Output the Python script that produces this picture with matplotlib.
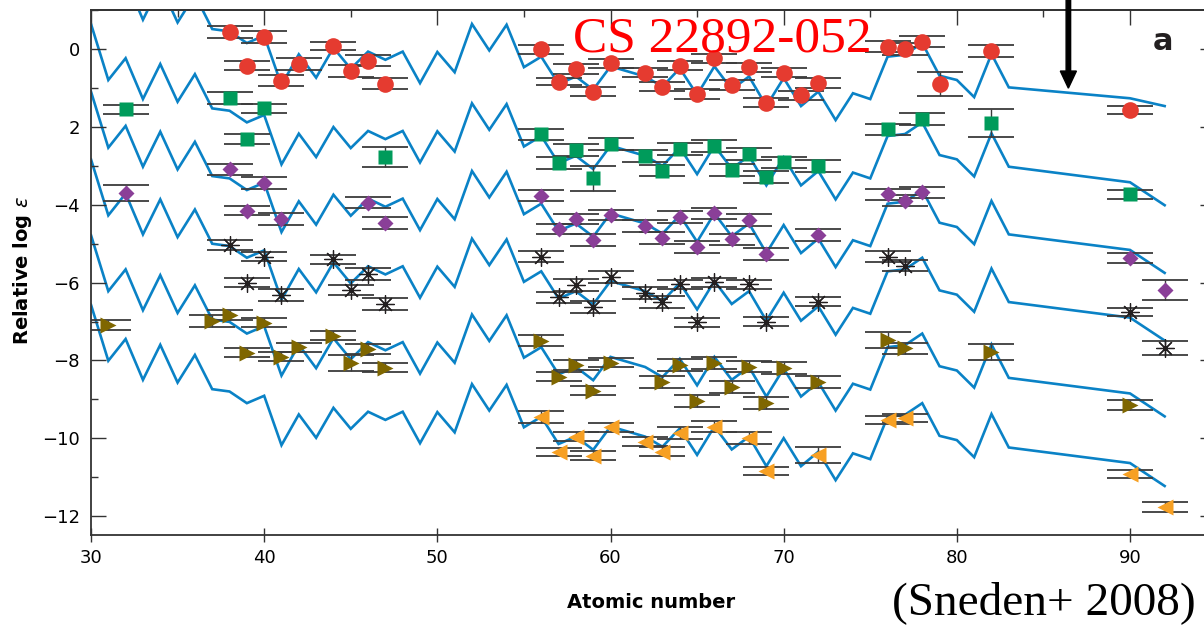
import numpy as np
import matplotlib
matplotlib.use('Agg')
import matplotlib.pyplot as plt
from matplotlib.ticker import MultipleLocator, FixedLocator, FixedFormatter, NullLocator
from matplotlib import rcParams

rcParams['font.family'] = 'DejaVu Sans'
rcParams['mathtext.fontset'] = 'dejavusans'

# scaled solar-system r-process pattern, anchored to CS 22892-052
solar_z = [30, 31, 32, 33, 34, 35, 36, 37, 38, 39, 40, 41, 42, 43, 44, 45, 46, 47,
           48, 49, 50, 51, 52, 53, 54, 55, 56, 57, 58, 59, 60, 61, 62, 63, 64, 65,
           66, 67, 68, 69, 70, 71, 72, 73, 74, 75, 76, 77, 78, 79, 80, 81, 82, 83,
           90, 92]
solar_r = [2.69, 1.25, 1.81, 0.76, 1.66, 0.69, 1.40, 0.52, 0.46, 0.16, 0.35, -0.92,
           -0.13, -0.73, 0.04, -0.50, -0.06, -0.27, -0.06, -0.87, -0.07, -0.59, 0.65,
           -0.03, 0.63, -0.46, -0.19, -0.89, -0.70, -1.04, -0.44, -0.57, -0.70, -0.96,
           -0.49, -1.17, -0.44, -1.03, -0.70, -1.46, -0.74, -1.46, -1.09, -1.82, -1.13,
           -1.28, -0.19, -0.14, 0.16, -0.68, -0.79, -1.23, -0.12, -0.98,
           -1.38, -1.97]
# vertical shift of the pattern for each star (top to bottom)
star_offsets = [0.0, -2.04, -3.78, -5.52, -7.47, -9.26]
# Th, U of the top curve
cs22892_th_u = [-1.26, -1.46]

# star 1 (CS 22892-052)
z1 = [38, 39, 40, 41, 42, 44, 45, 46, 47, 56, 57, 58, 59, 60, 62, 63, 64, 65, 66,
      67, 68, 69, 70, 71, 72, 76, 77, 78, 79, 82, 90]
v1 = [0.45, -0.42, 0.31, -0.81, -0.38, 0.08, -0.55, -0.29, -0.88, 0.00, -0.83,
      -0.51, -1.09, -0.36, -0.60, -0.96, -0.42, -1.15, -0.23, -0.92, -0.46, -1.37,
      -0.60, -1.18, -0.87, 0.07, 0.00, 0.20, -0.89, -0.04, -1.56]
e1 = [0.15, 0.12, 0.15, 0.14, 0.15, 0.10, 0.15, 0.15, 0.15, 0.12, 0.10, 0.12,
      0.12, 0.12, 0.12, 0.12, 0.12, 0.12, 0.12, 0.12, 0.12, 0.12, 0.12, 0.12,
      0.12, 0.15, 0.15, 0.15, 0.30, 0.16, 0.10]

# star 2
z2 = [32, 38, 39, 40, 47, 56, 57, 58, 59, 60, 62, 63, 64, 66, 67, 68, 69, 70, 72,
      76, 78, 82, 90]
v2 = [-1.54, -1.26, -2.31, -1.52, -2.76, -2.19, -2.93, -2.59, -3.32, -2.43, -2.75,
      -3.12, -2.57, -2.49, -3.10, -2.69, -3.29, -2.91, -3.00, -2.06, -1.79, -1.90,
      -3.73]
e2 = [0.12, 0.15, 0.12, 0.12, 0.26, 0.15, 0.15, 0.15, 0.33, 0.15, 0.15, 0.15,
      0.15, 0.15, 0.15, 0.15, 0.15, 0.15, 0.15, 0.15, 0.15, 0.36, 0.12]

# star 3
z3 = [32, 38, 39, 40, 41, 46, 47, 56, 57, 58, 59, 60, 62, 63, 64, 65, 66, 67, 68,
      69, 72, 76, 77, 78, 90, 92]
v3 = [-3.69, -3.09, -4.15, -3.43, -4.36, -3.94, -4.46, -3.76, -4.62, -4.36, -4.90,
      -4.26, -4.54, -4.86, -4.32, -5.09, -4.22, -4.89, -4.39, -5.26, -4.78, -3.73,
      -3.89, -3.68, -5.37, -6.19]
e3 = [0.21, 0.15, 0.12, 0.15, 0.15, 0.15, 0.15, 0.15, 0.12, 0.12, 0.15, 0.12,
      0.15, 0.15, 0.15, 0.15, 0.15, 0.15, 0.15, 0.15, 0.15, 0.15, 0.15, 0.15,
      0.12, 0.25]

# star 4
z4 = [38, 39, 40, 41, 44, 45, 46, 47, 56, 57, 58, 59, 60, 62, 63, 64, 65, 66, 68,
      69, 72, 76, 77, 90, 92]
v4 = [-5.03, -6.00, -5.33, -6.32, -5.40, -6.19, -5.78, -6.55, -5.33, -6.38, -6.06,
      -6.62, -5.86, -6.26, -6.49, -6.04, -7.02, -5.99, -6.04, -7.00, -6.49, -5.33,
      -5.56, -6.75, -7.69]
e4 = [0.12, 0.12, 0.12, 0.15, 0.12, 0.12, 0.15, 0.15, 0.15, 0.15, 0.15, 0.15,
      0.15, 0.15, 0.15, 0.12, 0.12, 0.12, 0.12, 0.12, 0.12, 0.15, 0.15, 0.10, 0.18]

# star 5
z5 = [31, 37, 38, 39, 40, 41, 42, 44, 45, 46, 47, 56, 57, 58, 59, 60, 63, 64, 65,
      66, 67, 68, 69, 70, 72, 76, 77, 82, 90]
v5 = [-7.09, -6.98, -6.83, -7.80, -7.03, -7.90, -7.66, -7.36, -8.07, -7.71, -8.19,
      -7.49, -8.42, -8.12, -8.78, -8.06, -8.55, -8.12, -9.04, -8.07, -8.68, -8.16,
      -9.10, -8.20, -8.55, -7.47, -7.69, -7.78, -9.15]
e5 = [0.12, 0.15, 0.12, 0.12, 0.12, 0.12, 0.12, 0.12, 0.20, 0.12, 0.12, 0.15,
      0.12, 0.12, 0.12, 0.12, 0.15, 0.15, 0.15, 0.15, 0.15, 0.15, 0.15, 0.15,
      0.15, 0.20, 0.15, 0.21, 0.12]

# star 6
z6 = [56, 57, 58, 59, 60, 62, 63, 64, 66, 68, 69, 72, 76, 77, 90, 92]
v6 = [-9.45, -10.35, -9.96, -10.45, -9.72, -10.09, -10.35, -9.87, -9.70, -10.00,
      -10.84, -10.43, -9.53, -9.49, -10.92, -11.78]
e6 = [0.15, 0.10, 0.12, 0.12, 0.12, 0.12, 0.12, 0.15, 0.15, 0.15, 0.10, 0.20,
      0.10, 0.10, 0.10, 0.13]

ytick_vals = [-12, -10, -8, -6, -4, -2, 0]
ytick_text = ['\u221212', '\u221210', '\u22128', '\u22126', '\u22124', '2', '0']

series = [
    (z1, v1, e1, dict(marker='o', ms=12, color='#e53b30', mec='none')),
    (z2, v2, e2, dict(marker='s', ms=10.5, color='#009b5b', mec='none')),
    (z3, v3, e3, dict(marker='D', ms=8.5, color='#8a3f98', mec='none')),
    (z4, v4, e4, dict(marker=(8, 2, 0), ms=13, color='#231f20', mew=0.9)),
    (z5, v5, e5, dict(marker='>', ms=12, color='#7f6600', mec='none')),
    (z6, v6, e6, dict(marker='<', ms=12, color='#f7a023', mec='none')),
]

W, H = 1204, 627
fig = plt.figure(figsize=(W / 100, H / 100), dpi=100)
ax = fig.add_axes([91 / W, (H - 535) / H, (1215 - 91) / W, (535 - 10) / H])

line_blue = '#0a82c6'
for k, off in enumerate(star_offsets):
    y = np.array(solar_r) + off
    if k == 0:
        y[-2:] = cs22892_th_u
    ax.plot(solar_z, y, color=line_blue, lw=1.9, zorder=1, solid_joinstyle='miter')

for z, v, e, style in series:
    ax.errorbar(z, v, yerr=e, fmt='none', ecolor='#3c3c3c', elinewidth=1.0,
                capsize=16.8, capthick=1.3, zorder=2)
    ax.plot(z, v, ls='none', zorder=3, **style)

ax.set_xlim(30, 30 + (1215 - 91) / 17.317)
ax.set_ylim(-12.49, 1.01)

# bottom axis: ticks crossing the line
ax.xaxis.set_major_locator(MultipleLocator(10))
ax.xaxis.set_minor_locator(NullLocator())
ax.tick_params(axis='x', which='major', direction='inout', length=10, width=1.0,
               pad=5, labelsize=13, colors='#333333', labelcolor='black')

# left axis (mirrored on the right)
ax.yaxis.set_major_locator(FixedLocator(ytick_vals))
ax.yaxis.set_major_formatter(FixedFormatter(ytick_text))
ax.yaxis.set_minor_locator(MultipleLocator(1))
ax.tick_params(axis='y', which='both', direction='in', left=True, right=True,
               width=1.0, colors='#333333', labelcolor='black')
ax.tick_params(axis='y', which='major', length=10.8, pad=8, labelsize=13)
ax.tick_params(axis='y', which='minor', length=5.3)

# top axis with minor ticks every 5
top = ax.secondary_xaxis('top')
top.xaxis.set_major_locator(MultipleLocator(10))
top.xaxis.set_minor_locator(MultipleLocator(5))
top.tick_params(which='both', direction='in', width=1.0, colors='#333333',
                labeltop=False)
top.tick_params(which='major', length=10.8)
top.tick_params(which='minor', length=5.3)

for s in ax.spines.values():
    s.set_linewidth(1.3)
    s.set_color('#333333')
top.spines['top'].set_linewidth(1.3)
top.spines['top'].set_color('#333333')

fig.text(22 / W, 1 - 270 / H, 'Relative log $\\epsilon$', rotation=90,
         ha='center', va='center', fontsize=14, fontweight='bold')
fig.text(651 / W, 1 - 603 / H, 'Atomic number', ha='center', va='center',
         fontsize=14, fontweight='bold')

fig.text(573 / W, 1 - 52 / H, 'CS 22892-052', color='red', fontsize=37,
         family='Liberation Serif', ha='left', va='baseline')
fig.text(1196 / W, 1 - 614 / H, '(Sneden+ 2008)', color='black', fontsize=34,
         family='Liberation Serif', ha='right', va='baseline')
fig.text(1163 / W, 1 - 50 / H, 'a', fontsize=22, fontweight='bold',
         ha='center', va='baseline', color='#231f20')

# arrow dropping in from above the frame
ax.arrow(86.44, 1.3, 0, -2.3, width=0.26, head_width=0.93, head_length=0.44,
         length_includes_head=True, color='black', clip_on=False, zorder=5)

fig.savefig('out.png', dpi=100)
